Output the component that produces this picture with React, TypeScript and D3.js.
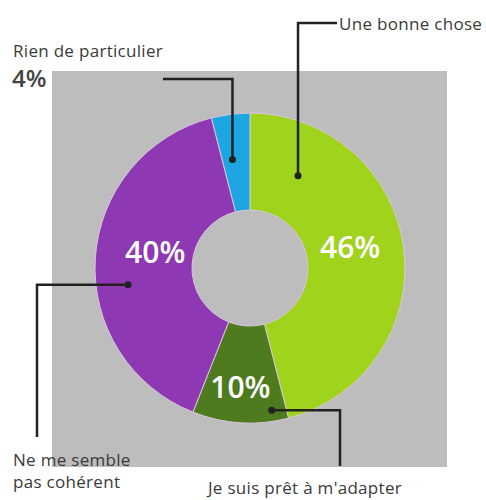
import * as d3 from "d3";

const categories = ["Une bonne chose", "Je suis prêt à m'adapter", "Ne me semble pas cohérent", "Rien de particulier"];
const values = [46, 10, 40, 4];
const colors = ["#9fd31c", "#4f7b1f", "#8f38b3", "#1ea6e2"];

const W = 486;
const H = 500;
const cx = 250;
const cy = 268;

const App = () => {
  const pie = d3.pie<number>().sort(null).value((d) => d);
  const arcs = pie(values);
  const arc = d3.arc<d3.PieArcDatum<number>>().innerRadius(58).outerRadius(155);
  const labelArc = d3.arc<d3.PieArcDatum<number>>().innerRadius(106).outerRadius(106);

  const font = "'Open Sans', sans-serif";
  // leader line anchor for each slice (angle offset, radius)
  const anchors = [
    { ang: (a) => a.startAngle + 0.48, r: 104 },
    { ang: (a) => a.startAngle + 0.1, r: 144 },
    { ang: (a) => (a.startAngle + a.endAngle) / 2 - 0.2, r: 123 },
    { ang: (a) => a.endAngle - 0.16, r: 110 },
  ];
  const dots = arcs.map((a, i) => {
    const t = anchors[i].ang(a);
    const r = anchors[i].r;
    return [cx + r * Math.sin(t), cy - r * Math.cos(t)];
  });
  const labelOffsets = [[-5, -5], [-3, 16], [11, -6]];

  const lines = [
    [[dots[0][0], dots[0][1]], [dots[0][0], 23], [337, 23]],
    [[dots[1][0], dots[1][1]], [340, dots[1][1]], [340, 466]],
    [[dots[2][0], dots[2][1]], [37, dots[2][1]], [37, 437]],
    [[dots[3][0], dots[3][1]], [dots[3][0], 79], [163, 79]],
  ];
  const line = d3.line();

  return (
    <svg width={W} height={H} style={{ position: "absolute", left: 0, top: 0 }}>
      <rect x={0} y={0} width={W} height={H} fill="#ffffff" />
      <rect x={52} y={71} width={395} height={396} fill="#bdbdbd" />
      <g transform={`translate(${cx},${cy})`}>
        {arcs.map((a, i) => (
          <path key={i} d={arc(a) || ""} fill={colors[i]} stroke="#d9c6dc" strokeWidth={1} />
        ))}
        {arcs.map((a, i) => {
          if (i === 3) return null;
          const [x, y] = labelArc.centroid(a);
          return (
            <text
              key={i}
              x={x + labelOffsets[i][0]}
              y={y + labelOffsets[i][1]}
              textAnchor="middle"
              dominantBaseline="middle"
              fill="#ffffff"
              fontFamily={font}
              fontWeight={600}
              fontSize={30}
            >
              {values[i]}%
            </text>
          );
        })}
      </g>
      {lines.map((l, i) => (
        <g key={i}>
          <path d={line(l as [number, number][]) || ""} fill="none" stroke="#222" strokeWidth={2.5} />
          <circle cx={l[0][0]} cy={l[0][1]} r={3.5} fill="#222" />
        </g>
      ))}
      <g fontFamily={font} fill="#3a3a3a" fontSize={17} letterSpacing={0.3}>
        <text x={339} y={30}>{categories[0]}</text>
        <text x={13} y={57}>{categories[3]}</text>
        <text x={12} y={87} fontSize={24} fontWeight={600} letterSpacing={0} fill="#444">{values[3]}%</text>
        <text x={13} y={466}>Ne me semble</text>
        <text x={13} y={488}>pas cohérent</text>
        <text x={208} y={494}>{categories[1]}</text>
      </g>
    </svg>
  );
};

export default App;
